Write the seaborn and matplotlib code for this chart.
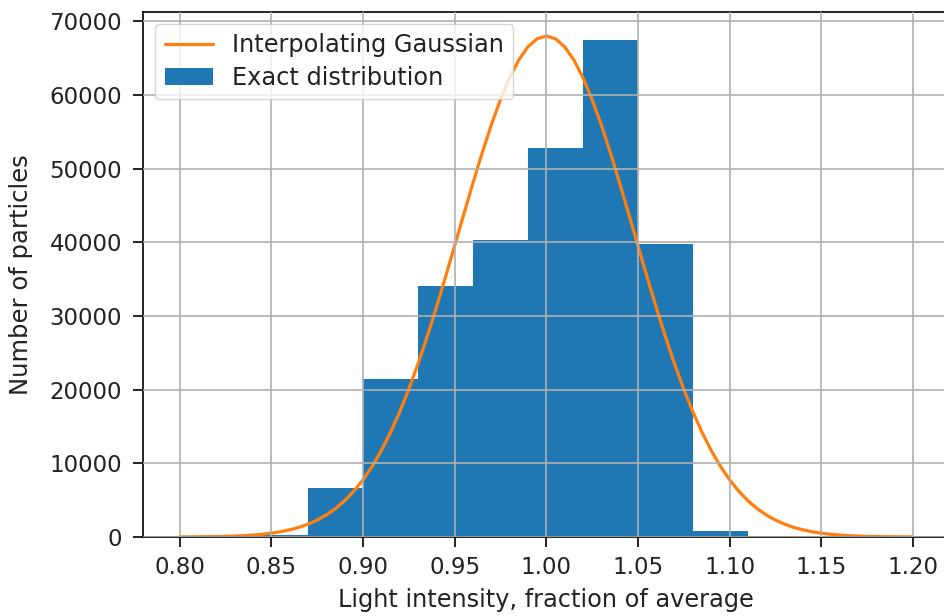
import numpy as np
import pandas as pd
import matplotlib
matplotlib.use("Agg")
import matplotlib.pyplot as plt
import seaborn as sns
from matplotlib.lines import Line2D
from matplotlib.patches import Patch

# ---- data ----
bin_edges = [0.84, 0.87, 0.90, 0.93, 0.96, 0.99, 1.02, 1.05, 1.08, 1.11]
bin_counts = [250, 6600, 21400, 34100, 40350, 52800, 67500, 39800, 800]

curve_x = [0.800, 0.805, 0.810, 0.815, 0.820, 0.825, 0.830, 0.835, 0.840, 0.845,
           0.850, 0.855, 0.860, 0.865, 0.870, 0.875, 0.880, 0.885, 0.890, 0.895,
           0.900, 0.905, 0.910, 0.915, 0.920, 0.925, 0.930, 0.935, 0.940, 0.945,
           0.950, 0.955, 0.960, 0.965, 0.970, 0.975, 0.980, 0.985, 0.990, 0.995,
           1.000, 1.005, 1.010, 1.015, 1.020, 1.025, 1.030, 1.035, 1.040, 1.045,
           1.050, 1.055, 1.060, 1.065, 1.070, 1.075, 1.080, 1.085, 1.090, 1.095,
           1.100, 1.105, 1.110, 1.115, 1.120, 1.125, 1.130, 1.135, 1.140, 1.145,
           1.150, 1.155, 1.160, 1.165, 1.170, 1.175, 1.180, 1.185, 1.190, 1.195,
           1.200]
curve_y = [12, 18, 27, 40, 60, 88, 129, 185, 263, 370,
           515, 710, 970, 1300, 1740, 2290, 2990, 3860, 4920, 6220,
           7760, 9590, 11730, 14180, 16960, 20060, 23480, 27180, 31130, 35270,
           39530, 43820, 48050, 52130, 55940, 59370, 62350, 64760, 66540, 67630,
           68000, 67630, 66540, 64760, 62350, 59370, 55940, 52130, 48050, 43820,
           39530, 35270, 31130, 27180, 23480, 20060, 16960, 14180, 11730, 9590,
           7760, 6220, 4920, 3860, 2990, 2290, 1740, 1300, 970, 710,
           515, 370, 263, 185, 129, 88, 60, 40, 27, 18,
           12]

x_ticks = [0.80, 0.85, 0.90, 0.95, 1.00, 1.05, 1.10, 1.15, 1.20]
x_tick_labels = ["0.80", "0.85", "0.90", "0.95", "1.00", "1.05", "1.10", "1.15", "1.20"]
y_ticks = [0, 10000, 20000, 30000, 40000, 50000, 60000, 70000]
y_tick_labels = ["0", "10000", "20000", "30000", "40000", "50000", "60000", "70000"]

line_label = "Interpolating Gaussian"
bar_label = "Exact distribution"
x_label = "Light intensity, fraction of average"
y_label = "Number of particles"

# ---- style ----
sns.set_style("ticks")
plt.rcParams["font.family"] = ["DejaVu Sans"]

centers = [(a + b) / 2 for a, b in zip(bin_edges[:-1], bin_edges[1:])]
hist_df = pd.DataFrame({"x": centers, "w": bin_counts})
curve_df = pd.DataFrame({"x": curve_x, "y": curve_y})

fig = plt.figure(figsize=(9.44, 6.16), dpi=100)
ax = fig.add_axes([143 / 944, 79 / 616, 806.6 / 944, 525.3 / 616])

sns.histplot(data=hist_df, x="x", weights="w", bins=list(bin_edges),
             color="#1f77b4", alpha=1.0, linewidth=0, ax=ax)
sns.lineplot(data=curve_df, x="x", y="y", color="#ff7f0e", linewidth=2.3, ax=ax)

ax.set_xlim(0.78, 1.22)
ax.set_ylim(0, 71300)
ax.set_xticks(x_ticks)
ax.set_xticklabels(x_tick_labels)
ax.set_yticks(y_ticks)
ax.set_yticklabels(y_tick_labels)

ax.set_axisbelow(False)
ax.grid(True, color="#b0b0b0", linewidth=1.2)

for sp in ax.spines.values():
    sp.set_visible(True)
    sp.set_color("black")
    sp.set_linewidth(1.2)

ax.tick_params(axis="both", direction="out", length=7, width=1.2,
               color="black", labelsize=16.5, labelcolor="#222222")
ax.tick_params(axis="x", pad=7)
ax.tick_params(axis="y", pad=8)
ax.set_xlabel(x_label, fontsize=17.3, color="#222222", labelpad=6.5)
ax.set_ylabel(y_label, fontsize=17.5, color="#222222", labelpad=12)

handles = [Line2D([0], [0], color="#ff7f0e", linewidth=2.3),
           Patch(facecolor="#1f77b4", edgecolor="none")]
leg = ax.legend(handles, [line_label, bar_label], loc="upper left",
                fontsize=17.3, framealpha=0.8, fancybox=True,
                handlelength=2.0, labelspacing=0.35, borderpad=0.4)
leg.get_frame().set_edgecolor("#cccccc")
for t in leg.get_texts():
    t.set_color("#222222")

fig.savefig("out.png", dpi=100)
